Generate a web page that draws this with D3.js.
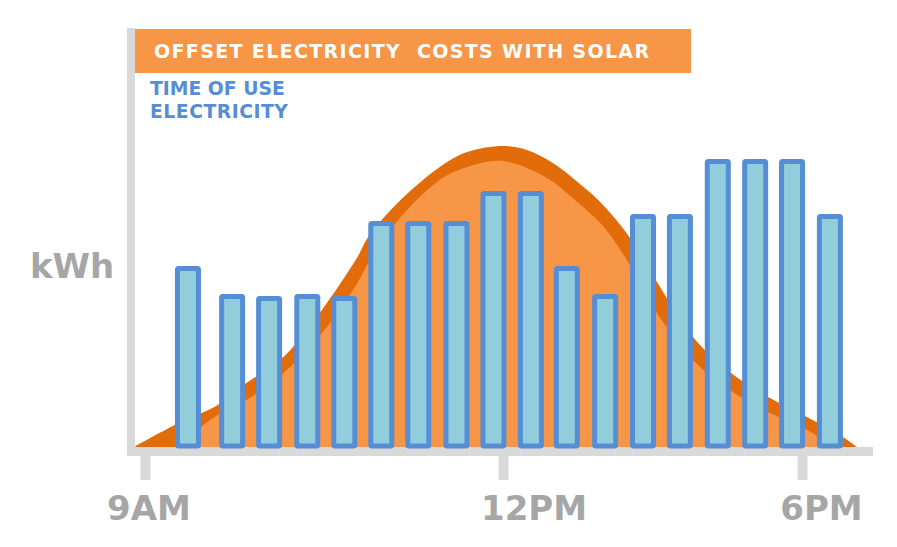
<!DOCTYPE html>
<html>
<head>
<meta charset="utf-8">
<script src="https://d3js.org/d3.v7.min.js"></script>
<style>
  html, body { margin: 0; padding: 0; background: #fff; }
  text { font-family: "DejaVu Sans", Verdana, sans-serif; font-weight: bold; }
</style>
</head>
<body>
<div id="chart"></div>
<script>
var title_text = "OFFSET ELECTRICITY\u00a0\u00a0COSTS WITH SOLAR";
var series_label = ["TIME OF USE", "ELECTRICITY"];
var y_label = "kWh";
var tick_hours = [9, 12, 18];
var tick_labels = ["9AM", "12PM", "6PM"];

// bars: hour of day and kWh
var bar_hours = [9.36, 9.73, 10.04, 10.36, 10.67, 10.98, 11.29, 11.61, 11.92, 12.56, 13.28, 14.05, 14.81, 15.55, 16.31, 17.06, 17.80, 18.56];
var bar_kwh = [6.03, 5.1, 5.03, 5.1, 5.03, 7.53, 7.53, 7.53, 8.53, 8.53, 6.03, 5.1, 7.77, 7.77, 9.6, 9.6, 9.6, 7.77];

// solar curve, outer edge of the dark band
var solar_hours = [8.92, 9.25, 9.61, 9.85, 10.16, 10.47, 10.78, 10.87, 11.10, 11.47, 11.70, 12, 12.48, 13.00, 13.40, 13.95, 14.55, 15.09, 15.81, 16.55, 17.32, 18.10, 18.82, 19.10];
var solar_kwh = [0.03, 0.73, 1.40, 2.13, 3.0, 4.5, 6.33, 7.0, 8.07, 9.33, 9.83, 10.03, 9.9, 9.47, 8.97, 8.17, 6.97, 5.5, 3.67, 2.5, 1.67, 1.0, 0.33, 0];

// inner edge of the band, the lighter fill
var inner_hours = [9.28, 9.49, 9.61, 9.85, 10.16, 10.47, 10.78, 10.87, 11.10, 11.47, 11.70, 12, 12.88, 13.40, 13.95, 14.15, 14.51, 15.09, 15.81, 16.55, 17.32, 18.10, 18.66];
var inner_kwh = [0.03, 0.73, 1.07, 1.57, 2.47, 3.73, 5.47, 6.13, 7.47, 8.9, 9.33, 9.53, 8.97, 8.3, 7.47, 7.07, 6.17, 4.47, 2.9, 1.9, 1.17, 0.57, 0];

var width = 897, height = 547;
var axis_gray = "#d9d9d9", label_gray = "#a6a6a6";
var bar_w = 21, bar_stroke = 5;

var svg = d3.select("#chart").append("svg")
    .attr("width", width)
    .attr("height", height)
    .style("display", "block");

// the time axis in the picture is not even: 9-12 is wider than 12-6
var x = d3.scaleLinear().domain([9, 12, 18]).range([145, 503, 802]);
var y = d3.scaleLinear().domain([0, 10]).range([447, 147]);

function makeArea(hours, kwh) {
    var pts = hours.map(function(h, i) { return [h, kwh[i]]; });
    return d3.area()
        .x(function(d) { return x(d[0]); })
        .y0(y(0))
        .y1(function(d) { return y(d[1]); })
        .curve(d3.curveCatmullRom.alpha(0.5))(pts);
}

// axis lines
svg.append("rect").attr("x", 127).attr("y", 28).attr("width", 8).attr("height", 428).attr("fill", axis_gray);
svg.append("rect").attr("x", 130).attr("y", 447).attr("width", 743).attr("height", 9).attr("fill", axis_gray);

var x_axis = d3.axisBottom(x)
    .tickValues(tick_hours)
    .tickFormat(function(d, i) { return tick_labels[i]; })
    .tickSize(33)
    .tickPadding(7);

var ax = svg.append("g").attr("transform", "translate(0,447)").call(x_axis);
ax.select(".domain").remove();
ax.selectAll(".tick line").attr("stroke", axis_gray).attr("stroke-width", 10);
ax.selectAll(".tick text")
    .attr("x", function(d, i) { return [3.5, 30.5, 19][i]; })
    .attr("y", 73)
    .attr("dy", 0)
    .attr("fill", label_gray)
    .style("font-size", "34px")
    .style("font-family", "'DejaVu Sans', Verdana, sans-serif")
    .style("font-weight", "bold");

// solar
svg.append("path").attr("d", makeArea(solar_hours, solar_kwh)).attr("fill", "#e36c0a");
svg.append("path").attr("d", makeArea(inner_hours, inner_kwh)).attr("fill", "#f79646");

// bars
svg.selectAll("rect.bar")
    .data(bar_hours)
    .enter()
    .append("rect")
    .attr("class", "bar")
    .attr("x", function(d) { return x(d) - bar_w / 2; })
    .attr("y", function(d, i) { return y(bar_kwh[i]) + bar_stroke / 2; })
    .attr("width", bar_w)
    .attr("height", function(d, i) { return y(0) - y(bar_kwh[i]) - bar_stroke / 2 - 1; })
    .attr("rx", 1)
    .attr("fill", "#92cddc")
    .attr("stroke", "#558ed5")
    .attr("stroke-width", bar_stroke);

// title band
svg.append("rect").attr("x", 135).attr("y", 29).attr("width", 556).attr("height", 44).attr("fill", "#f79646");
svg.append("text")
    .attr("x", 154).attr("y", 58)
    .attr("fill", "#fff")
    .style("font-size", "19px")
    .style("letter-spacing", "1.35px")
    .text(title_text);

svg.selectAll("text.series")
    .data(series_label)
    .enter()
    .append("text")
    .attr("class", "series")
    .attr("x", 150)
    .attr("y", function(d, i) { return 95 + i * 23; })
    .attr("fill", "#558ed5")
    .style("font-size", "18.8px")
    .style("letter-spacing", function(d, i) { return i ? "0.5px" : "0"; })
    .text(function(d) { return d; });

svg.append("text")
    .attr("x", 30).attr("y", 278)
    .attr("fill", label_gray)
    .style("font-size", "34px")
    .text(y_label);
</script>
</body>
</html>
